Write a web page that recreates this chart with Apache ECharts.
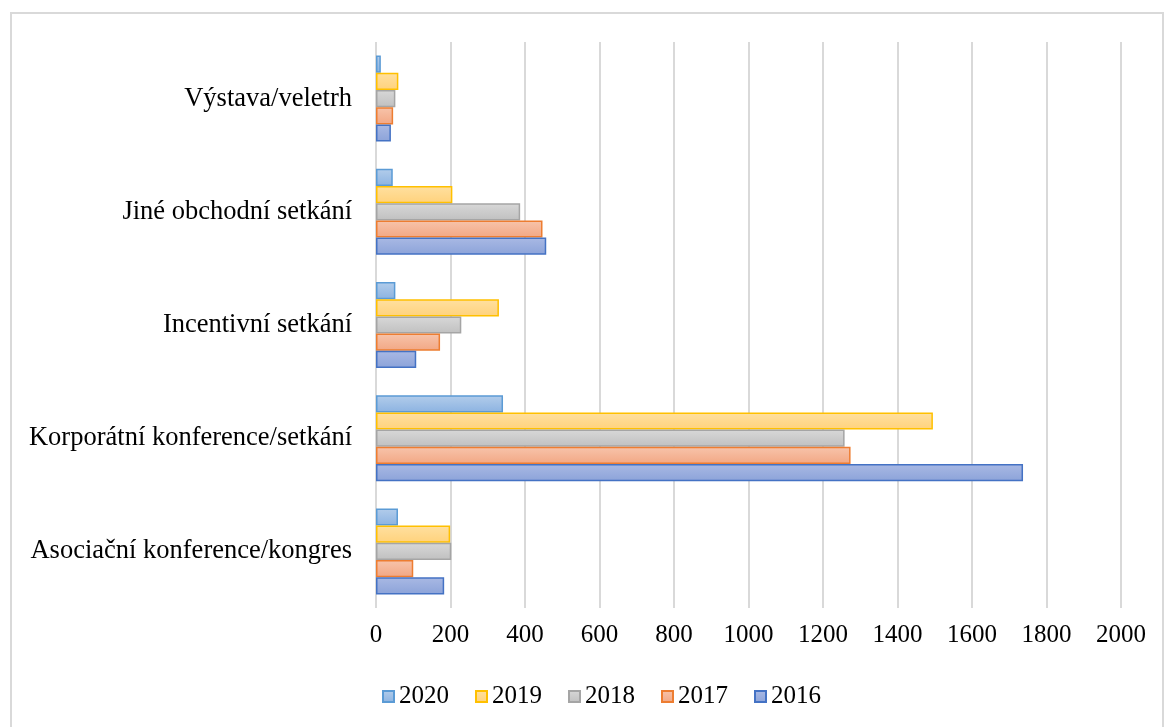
<!DOCTYPE html>
<html>
<head>
<meta charset="utf-8">
<script src="https://cdn.jsdelivr.net/npm/echarts@6/dist/echarts.min.js"></script>
<style>
  html, body { margin: 0; padding: 0; background: #fff; }
  #frame {
    position: absolute; left: 10px; top: 12px; width: 1154px; height: 740px;
    border: 2px solid #d9d9d9; box-sizing: border-box;
  }
  #main { position: absolute; left: 0; top: 0; width: 1165px; height: 727px; }
</style>
</head>
<body>
<div id="frame"></div>
<div id="main"></div>
<script>
// categories, bottom to top
const categories = [
  'Asociační konference/kongres',
  'Korporátní konference/setkání',
  'Incentivní setkání',
  'Jiné obchodní setkání',
  'Výstava/veletrh'
]
// series listed top bar first within each group
const years = ['2020', '2019', '2018', '2017', '2016']
const values2020 = [59, 341, 52, 45, 13]
const values2019 = [199, 1495, 330, 205, 60]
const values2018 = [202, 1258, 229, 387, 52]
const values2017 = [100, 1274, 172, 447, 46]
const values2016 = [183, 1737, 108, 457, 40]
const xTicks = { min: 0, max: 2000, interval: 200 }

const seriesValues = [values2020, values2019, values2018, values2017, values2016]
const styles = [
  { border: '#5B9BD5', top: '#b3cdeb', bottom: '#8cb3e1' },
  { border: '#FFC000', top: '#ffe0a0', bottom: '#ffd27c' },
  { border: '#A5A5A5', top: '#d8d8d8', bottom: '#c0c0c0' },
  { border: '#ED7D31', top: '#f7c4ab', bottom: '#f2a784' },
  { border: '#4472C4', top: '#a9b9e4', bottom: '#8ca3d9' }
]

const chart = echarts.init(document.getElementById('main'))
const font = "'Liberation Serif', 'Times New Roman', serif"

const option = {
  animation: false,
  textStyle: { fontFamily: font },
  grid: { left: 376, right: 44, top: 42, bottom: 119 },
  legend: {
    data: years,
    top: 679,
    left: 377,
    icon: 'rect',
    itemWidth: 11,
    itemHeight: 11,
    itemGap: 26,
    textStyle: { fontFamily: font, fontSize: 25, color: '#000' }
  },
  xAxis: {
    type: 'value',
    min: xTicks.min,
    max: xTicks.max,
    interval: xTicks.interval,
    axisLine: { show: false },
    axisTick: { show: false },
    axisLabel: { fontFamily: font, fontSize: 25, color: '#000', margin: 15, formatter: v => String(v) },
    splitLine: { show: true, lineStyle: { color: '#d9d9d9', width: 2 } }
  },
  yAxis: {
    type: 'category',
    data: categories,
    axisLine: { show: false },
    axisTick: { show: false },
    axisLabel: { fontFamily: font, fontSize: 26.5, color: '#000', margin: 24, lineHeight: 36, verticalAlign: 'middle' }
  },
  series: years.map((y, i) => ({
    name: y,
    type: 'bar',
    data: seriesValues[i],
    barGap: '0%',
    barCategoryGap: '24%',
    itemStyle: {
      borderColor: styles[i].border,
      borderWidth: 1.5,
      color: new echarts.graphic.LinearGradient(0, 0, 0, 1, [
        { offset: 0, color: styles[i].top },
        { offset: 1, color: styles[i].bottom }
      ])
    }
  }))
}
chart.setOption(option)
</script>
</body>
</html>
